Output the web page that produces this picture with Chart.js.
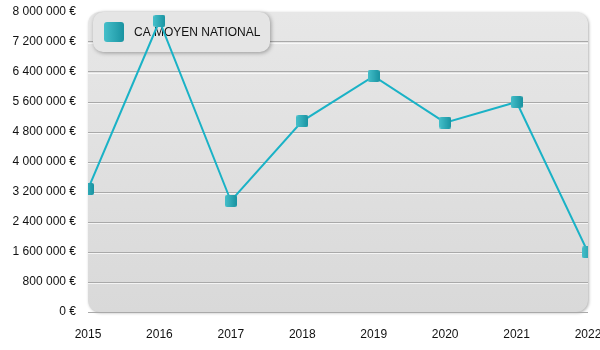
<!DOCTYPE html>
<html>
<head>
<meta charset="utf-8">
<script src="https://cdn.jsdelivr.net/npm/chart.js@4/dist/chart.umd.min.js"></script>
<style>
  html, body { margin: 0; padding: 0; background: #fff; }
  #wrap { width: 600px; height: 350px; }
</style>
</head>
<body>
<div id="wrap"><canvas id="caChart"></canvas></div>
<script>
// Données du graphique
const annees = ['2015', '2016', '2017', '2018', '2019', '2020', '2021', '2022'];
const caMoyen = [3280000, 7760000, 2960000, 5090000, 6290000, 5050000, 5600000, 1590000];
const nomSerie = 'CA MOYEN NATIONAL';
const yMin = 0;
const yMax = 8000000;
const yPas = 800000;

// Format "8 000 000 €"
function formatEuro(v) {
  return String(v).replace(/\B(?=(\d{3})+(?!\d))/g, ' ') + ' €';
}

// Petit carré dégradé (point et légende)
function carreDegrade(taille, rayon) {
  const c = document.createElement('canvas');
  c.width = taille; c.height = taille;
  const g = c.getContext('2d');
  const grad = g.createLinearGradient(0, 0, taille, 0);
  grad.addColorStop(0, '#45bfca');
  grad.addColorStop(1, '#1993a1');
  g.fillStyle = grad;
  g.beginPath();
  g.roundRect(0, 0, taille, taille, rayon);
  g.fill();
  return c;
}

const pointCarre = carreDegrade(12, 2);
const legendeCarre = carreDegrade(20, 3);

// Fond arrondi de la zone de tracé
const fondZone = {
  id: 'fondZone',
  beforeDraw(chart) {
    const { ctx, chartArea: a } = chart;
    ctx.save();
    ctx.shadowColor = 'rgba(0,0,0,0.3)';
    ctx.shadowBlur = 3;
    ctx.shadowOffsetX = 1;
    ctx.shadowOffsetY = 1;
    const grad = ctx.createLinearGradient(0, a.top, 0, a.bottom);
    grad.addColorStop(0, '#e7e7e7');
    grad.addColorStop(1, '#d9d9d9');
    ctx.fillStyle = grad;
    ctx.beginPath();
    ctx.roundRect(a.left, a.top, a.right - a.left, a.bottom - a.top, 12);
    ctx.fill();
    ctx.restore();
  }
};

// Liseré clair sous chaque ligne de grille + légende dessinée sous la courbe
const legendeBoite = {
  id: 'legendeBoite',
  beforeDatasetsDraw(chart) {
    const { ctx, chartArea: a } = chart;
    const ys = chart.scales.y;
    ctx.save();
    ctx.strokeStyle = 'rgba(255,255,255,0.7)';
    ctx.lineWidth = 1;
    ys.ticks.forEach(t => {
      if (t.value === yMax || t.value === yMin) return;
      const py = Math.round(ys.getPixelForValue(t.value)) + 1.5;
      ctx.beginPath();
      ctx.moveTo(a.left, py);
      ctx.lineTo(a.right, py);
      ctx.stroke();
    });
    ctx.restore();

    const x = a.left + 5, y = a.top, w = 177, h = 40;
    ctx.save();
    ctx.shadowColor = 'rgba(0,0,0,0.35)';
    ctx.shadowBlur = 4;
    ctx.shadowOffsetX = 1;
    ctx.shadowOffsetY = 1;
    ctx.fillStyle = '#e5e5e5';
    ctx.beginPath();
    ctx.roundRect(x, y, w, h, 10);
    ctx.fill();
    ctx.restore();
    ctx.save();
    ctx.drawImage(legendeCarre, a.left + 16, a.top + 10);
    ctx.fillStyle = '#111';
    ctx.font = '12px "Liberation Sans", Arial, sans-serif';
    ctx.textBaseline = 'middle';
    ctx.fillText(chart.data.datasets[0].label, a.left + 46, a.top + 21);
    ctx.restore();
  }
};

const ctx = document.getElementById('caChart').getContext('2d');
const caChart = new Chart(ctx, {
  type: 'line',
  data: {
    labels: annees,
    datasets: [{
      label: nomSerie,
      data: caMoyen,
      borderColor: '#1ab2c6',
      borderWidth: 2,
      tension: 0,
      clip: 0,
      pointStyle: pointCarre,
      pointRadius: 6,
      pointHoverRadius: 6
    }]
  },
  options: {
    responsive: true,
    maintainAspectRatio: false,
    animation: false,
    layout: { padding: { top: 12, right: 12, left: 0, bottom: 0 } },
    plugins: {
      legend: { display: false },
      tooltip: { enabled: false }
    },
    scales: {
      x: {
        grid: { display: false },
        border: { display: false },
        ticks: {
          color: '#111',
          padding: 7,
          maxRotation: 0,
          autoSkip: false,
          font: { family: '"Liberation Sans", Arial, sans-serif', size: 12 }
        },
        afterFit(s) { s.height = 38; s.paddingLeft = 0; s.paddingRight = 0; }
      },
      y: {
        min: yMin,
        max: yMax,
        grid: {
          drawTicks: false,
          color: c => (c.tick && c.tick.value === yMax) ? 'rgba(0,0,0,0)' : '#a9a9a9',
          lineWidth: 1
        },
        border: { display: false },
        ticks: {
          stepSize: yPas,
          color: '#111',
          padding: 12,
          font: { family: '"Liberation Sans", Arial, sans-serif', size: 12 },
          callback: v => formatEuro(v)
        },
        afterFit(s) { s.width = 88; s.paddingTop = 0; s.paddingBottom = 0; }
      }
    }
  },
  plugins: [fondZone, legendeBoite]
});
</script>
</body>
</html>
